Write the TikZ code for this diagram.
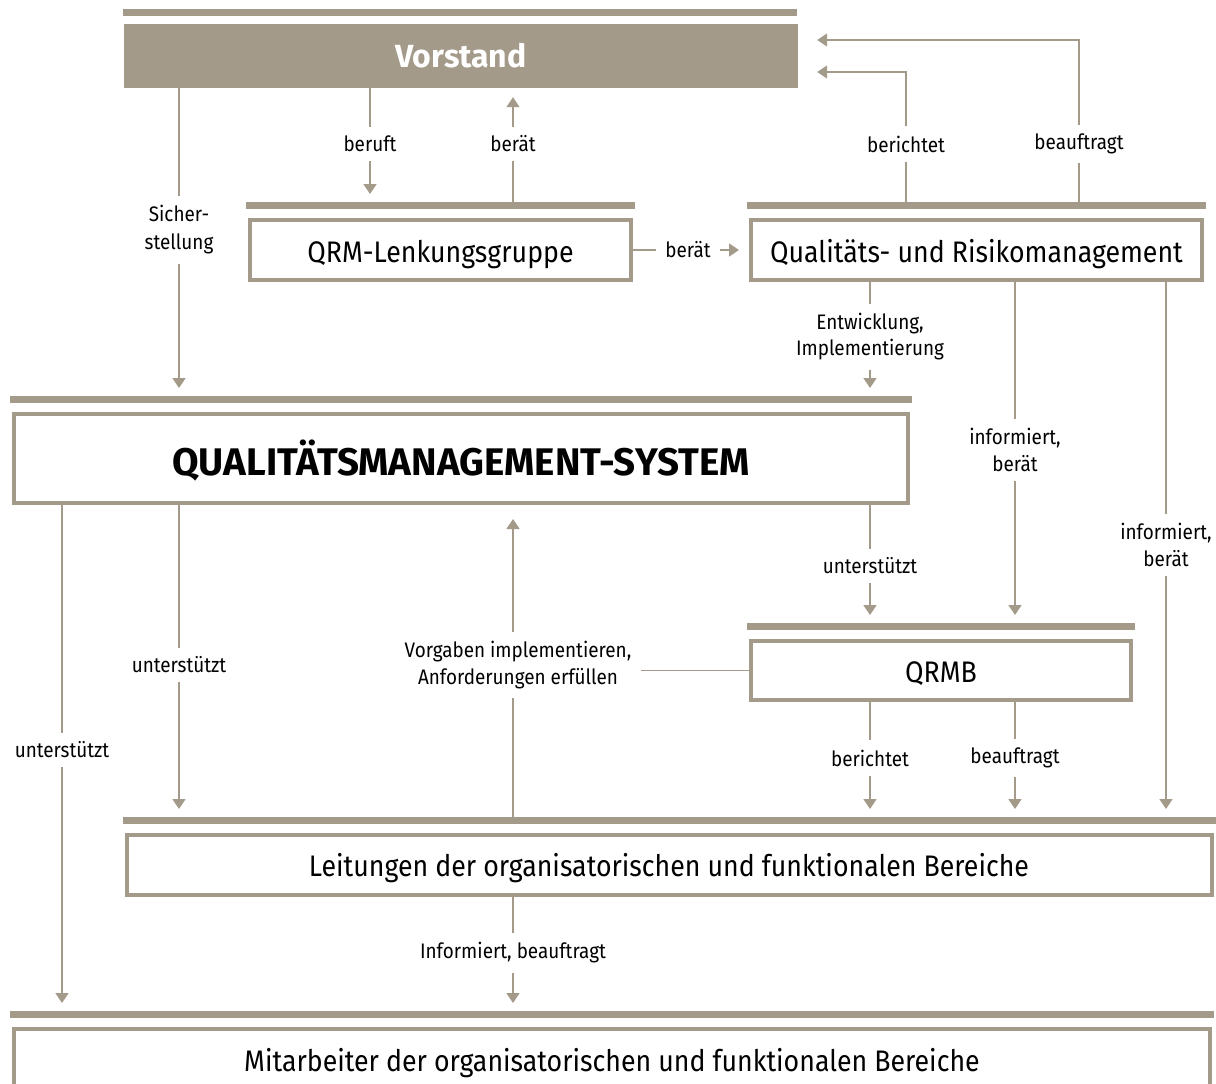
\documentclass[tikz,border=0pt]{standalone}
\usepackage{fontspec}
\setmainfont{Fira Sans}[FakeStretch=0.9]
\newfontfamily\headfont{Fira Sans}
\usetikzlibrary{arrows.meta,calc}
\definecolor{taupe}{HTML}{A39A8A}
\begin{document}
\begin{tikzpicture}[x=1pt,y=-1pt,
  box/.style={draw=taupe, line width=4pt, fill=white, inner sep=0pt,
    text height=23pt, text depth=0pt,
    font=\fontsize{29.7}{36}\selectfont},
  headbox/.style={fill=taupe, inner sep=0pt, text=white,
    text height=22pt, text depth=0pt,
    font=\fontsize{32}{38}\headfont\bfseries},
  bar/.style={draw=taupe, line width=7pt},
  conn/.style={draw=taupe, line width=1.6pt},
  arr/.style={conn, -{Triangle[width=13pt,length=10pt]}},
  lbl/.style={font=\fontsize{21}{27}\selectfont, align=center,
    inner xsep=9pt, inner ysep=9pt},
]
\useasboundingbox (0,0) rectangle (1216,1084);

% ---------- boxes ----------
\node[headbox, minimum width=674pt, minimum height=64pt] (vorstand) at (461,56) {Vorstand};
\node[box, minimum width=381pt, minimum height=60pt, text height=25pt] (lenk) at (440.5,250) {QRM-Lenkungsgruppe};
\node[box, minimum width=451pt, minimum height=60pt, text height=25pt] (qrm) at (976.5,250) {Qualitäts- und Risikomanagement};
\node[box, minimum width=894pt, minimum height=89pt, text height=33pt,
  font=\fontsize{38.5}{44}\headfont\bfseries] (qms) at (461,458.5) {QUALITÄTSMANAGEMENT-SYSTEM};
\node[box, minimum width=380pt, minimum height=59pt] (qrmb) at (941,670.5) {QRMB};
\node[box, minimum width=1085pt, minimum height=60pt] (leit) at (669,865)
  {Leitungen der organisatorischen und funktionalen Bereiche};
\node[box, minimum width=1196pt, minimum height=62pt] (mit) at (612,1060)
  {Mitarbeiter der organisatorischen und funktionalen Bereiche};

% ---------- heading bars above the boxes ----------
\draw[bar] ([xshift=-1pt,yshift=11pt]vorstand.north west) -- ([xshift=-1pt,yshift=11pt]vorstand.north east);
\foreach \b in {lenk,qrm,qms,qrmb,leit,mit}{
  \draw[bar] ([xshift=-2pt,yshift=13pt]\b.north west) -- ([xshift=2pt,yshift=13pt]\b.north east);
  \coordinate (\b bar) at ([yshift=13pt]\b.north);
}

% ---------- arrow targets on the right of Vorstand ----------
\coordinate (vin1) at ($(vorstand.east)+(19,-16)$);
\coordinate (vin2) at ($(vorstand.east)+(19,16)$);

% ---------- labels ----------
\node[lbl] (lberuft) at (370,144) {beruft};
\node[lbl] (lberat) at (513,144) {berät};
\node[lbl] (lberi) at (906,144) {berichtet};
\node[lbl] (lbeauf) at (1079,144) {beauftragt};
\node[lbl, font=\fontsize{21}{28}\selectfont] (lsich) at (179,230) {Sicher-\\stellung};
\node[lbl] (lberatq) at (688,250) {berät};
\node[lbl, font=\fontsize{21}{26}\selectfont] (lentw) at (870,337) {Entwicklung,\\Implementierung};
\node[lbl] (linfa) at (1015,450) {informiert,\\berät};
\node[lbl] (linfb) at (1166,545) {informiert,\\berät};
\node[lbl] (luntq) at (870,566) {unterstützt};
\node[lbl] (luntm) at (179,665) {unterstützt};
\node[lbl] (luntl) at (62,750) {unterstützt};
\node[lbl] (lvorg) at (518,665) {Vorgaben implementieren,\\Anforderungen erfüllen};
\node[lbl] (lqberi) at (870,758) {berichtet};
\node[lbl] (lqbeauf) at (1015,758) {beauftragt};
\node[lbl] (linfbe) at (513,953) {Informiert, beauftragt};

% ---------- connectors ----------
% Vorstand and QRM-Lenkungsgruppe
\draw[conn] (vorstand.south -| lberuft) -- (lberuft);
\draw[arr] (lberuft) -- ($(lenkbar -| lberuft)+(0,-11)$);
\draw[conn] (lenkbar -| lberat) -- (lberat);
\draw[arr] (lberat) -- ($(vorstand.south -| lberat)+(0,9)$);
% Qualitäts- und Risikomanagement reports to Vorstand
\draw[conn] (qrmbar -| lberi) -- (lberi);
\draw[arr] (lberi) |- (vin2);
\draw[conn] (qrmbar -| lbeauf) -- (lbeauf);
\draw[arr] (lbeauf) |- (vin1);
% Sicherstellung
\draw[conn] (vorstand.south -| lsich) -- (lsich);
\draw[arr] (lsich) -- ($(qmsbar -| lsich)+(0,-11)$);
% Lenkungsgruppe advises QRM
\draw[conn] (lenk.east) -- (lberatq);
\draw[arr] (lberatq) -- ($(qrm.west)+(-10,0)$);
% QRM downwards
\draw[conn] (qrm.south -| lentw) -- (lentw);
\draw[arr] (lentw) -- ($(qmsbar -| lentw)+(0,-11)$);
\draw[conn] (qrm.south -| linfa) -- (linfa);
\draw[arr] (linfa) -- ($(qrmbbar -| linfa)+(0,-11)$);
\draw[conn] (qrm.south -| linfb) -- (linfb);
\draw[arr] (linfb) -- ($(leitbar -| linfb)+(0,-11)$);
% QMS downwards
\draw[conn] (qms.south -| luntq) -- (luntq);
\draw[arr] (luntq) -- ($(qrmbbar -| luntq)+(0,-11)$);
\draw[conn] (qms.south -| luntm) -- (luntm);
\draw[arr] (luntm) -- ($(leitbar -| luntm)+(0,-11)$);
\draw[conn] (qms.south -| luntl) -- (luntl);
\draw[arr] (luntl) -- ($(mitbar -| luntl)+(0,-11)$);
% Leitungen implement requirements of the QMS
\draw[conn] (leitbar -| 513,0) -- (lvorg.south -| 513,0);
\draw[arr] (lvorg.north -| 513,0) -- ($(qms.south -| 513,0)+(0,14)$);
\draw[conn] (lvorg.east |- qrmb.west) -- (qrmb.west);
% QRMB downwards
\draw[conn] (qrmb.south -| lqberi) -- (lqberi);
\draw[arr] (lqberi) -- ($(leitbar -| lqberi)+(0,-11)$);
\draw[conn] (qrmb.south -| lqbeauf) -- (lqbeauf);
\draw[arr] (lqbeauf) -- ($(leitbar -| lqbeauf)+(0,-11)$);
% Leitungen to Mitarbeiter
\draw[conn] (leit.south -| linfbe) -- (linfbe);
\draw[arr] (linfbe) -- ($(mitbar -| linfbe)+(0,-11)$);
\end{tikzpicture}
\end{document}
